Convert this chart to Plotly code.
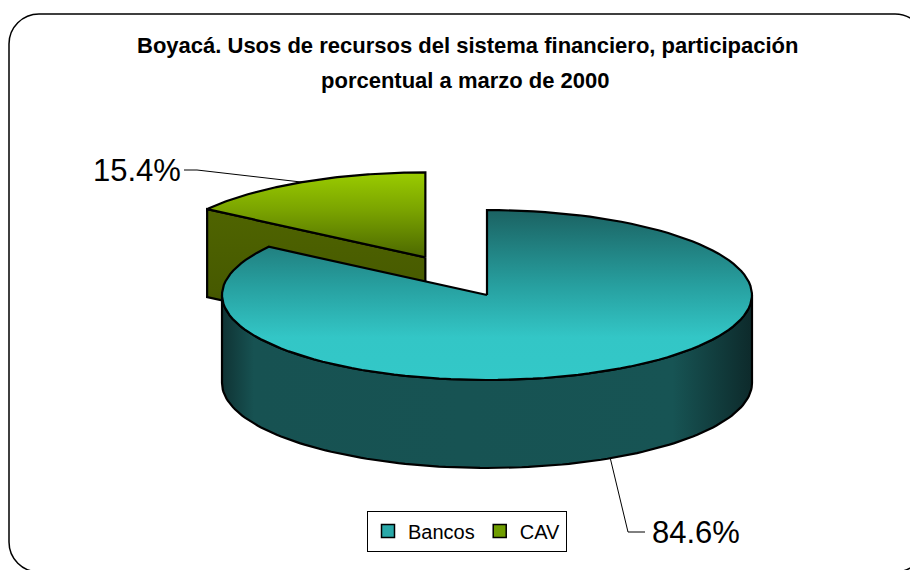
import math
import plotly.graph_objects as go

# ---------------- data ----------------
categories = ["Bancos", "CAV"]
values = [84.6, 15.4]
label_texts = ["84.6%", "15.4%"]
title_lines = ["Boyacá. Usos de recursos del sistema financiero, participación",
               "porcentual a marzo de 2000"]

# ---------------- layout / style ----------------
W, H = 918, 570
OFF = 8                    # page body margin (screen offset of the figure)
CX, CY = 487, 295          # centre of the pie top (screen px)
RX, RY = 265, 85           # ellipse radii of the pie top
DEPTH = 88                 # thickness of the 3D pie
EXPLODE = [0.0, 0.5]       # explode fraction of radius per slice
FONT = "Liberation Sans, Arial, sans-serif"

top_scales = [
    [[0, "#1b6262"], [0.45, "#27a0a0"], [0.75, "#33c6c6"], [1, "#33c8c8"]],
    [[0, "#9acc00"], [0.45, "#7aa300"], [1, "#4c6800"]],
]
side_scales = [
    [[0, "#0f3334"], [0.06, "#175252"], [0.85, "#175454"], [1, "#0d2a2b"]],
    [[0, "#4c6000"], [1, "#4c6000"]],
]
cut_scales = [
    [[0, "#1a5a5a"], [1, "#134444"]],
    [[0, "#4f6400"], [0.6, "#475a00"], [1, "#36450a"]],
]
legend_colors = ["#2aa9a9", "#6f9d00"]

# label geometry (text anchor, elbow)
label_pos = [dict(x=650, y=532, elbow=(628, 532), end=(645, 532), anchor="left"),
             dict(x=183, y=170, elbow=(197, 170), end=(184, 170), anchor="right")]

# ---------------- geometry from values ----------------
total = sum(values)
angles = []
acc = 0.0
for v in values:
    a0 = acc / total * 2 * math.pi
    acc += v
    a1 = acc / total * 2 * math.pi
    angles.append((a0, a1))


def rim(phi, dx, dy, drop=0.0):
    return CX + dx + RX * math.sin(phi), CY + dy - RY * math.cos(phi) + drop


def arc(a0, a1, dx, dy, drop=0.0, n=120):
    pts = []
    for k in range(n + 1):
        p = a0 + (a1 - a0) * k / n
        pts.append(rim(p, dx, dy, drop))
    return pts


fig = go.Figure()

slices = []
for i, (a0, a1) in enumerate(angles):
    mid = (a0 + a1) / 2
    e = EXPLODE[i]
    dx = e * RX * math.sin(mid)
    dy = -e * RY * math.cos(mid)
    slices.append(dict(i=i, a0=a0, a1=a1, mid=mid, dx=dx, dy=dy, key=-math.cos(mid)))

# draw back slices first
for s in sorted(slices, key=lambda d: d["key"]):
    i, a0, a1, dx, dy = s["i"], s["a0"], s["a1"], s["dx"], s["dy"]
    cx, cy = CX + dx, CY + dy
    line = dict(color="black", width=2.2)

    # cut faces
    faces = []
    if math.sin(a0) < -1e-6:
        faces.append(a0)
    if math.sin(a1) > 1e-6:
        faces.append(a1)
    for p in faces:
        rx_, ry_ = rim(p, dx, dy)
        xs = [cx, rx_, rx_, cx, cx]
        ys = [cy, ry_, ry_ + DEPTH, cy + DEPTH, cy]
        fig.add_trace(go.Scatter(x=xs, y=ys, mode="lines", fill="toself",
                                 line=line, hoverinfo="skip", showlegend=False,
                                 fillgradient=dict(type="vertical", colorscale=cut_scales[i],
                                                   start=min(ys), stop=max(ys))))

    # outer side (front half only)
    for lo, hi in [(math.pi / 2, 3 * math.pi / 2), (5 * math.pi / 2, 7 * math.pi / 2)]:
        b0, b1 = max(a0, lo), min(a1, hi)
        if b1 > b0:
            top = arc(b0, b1, dx, dy)
            bot = arc(b0, b1, dx, dy, DEPTH)[::-1]
            pts = top + bot + [top[0]]
            xs = [p[0] for p in pts]
            ys = [p[1] for p in pts]
            fig.add_trace(go.Scatter(x=xs, y=ys, mode="lines", fill="toself",
                                     line=line, hoverinfo="skip", showlegend=False,
                                     fillgradient=dict(type="horizontal", colorscale=side_scales[i],
                                                       start=min(xs), stop=max(xs))))

    # top face
    pts = [(cx, cy)] + arc(a0, a1, dx, dy) + [(cx, cy)]
    xs = [p[0] for p in pts]
    ys = [p[1] for p in pts]
    fig.add_trace(go.Scatter(x=xs, y=ys, mode="lines", fill="toself",
                             line=line, hoverinfo="skip", showlegend=False,
                             fillgradient=dict(type="vertical", colorscale=top_scales[i],
                                               start=min(ys), stop=max(ys))))

# leader lines and labels
for s in slices:
    i = s["i"]
    lp = label_pos[i]
    if -math.cos(s["mid"]) > 0:   # front slice: anchor on bottom rim
        ax, ay = rim(s["mid"], s["dx"], s["dy"], DEPTH)
    else:
        ax, ay = rim(s["mid"], s["dx"], s["dy"])
    fig.add_trace(go.Scatter(x=[ax, lp["elbow"][0], lp["end"][0]],
                             y=[ay, lp["elbow"][1], lp["end"][1]],
                             mode="lines", line=dict(color="black", width=1),
                             hoverinfo="skip", showlegend=False))
    fig.add_annotation(x=lp["x"], y=lp["y"], xref="x", yref="y", text=label_texts[i],
                       showarrow=False, xanchor=lp["anchor"], yanchor="middle",
                       font=dict(family=FONT, size=31, color="black"))

# legend entries
for i, c in enumerate(categories):
    fig.add_trace(go.Scatter(x=[None], y=[None], mode="markers", name=c,
                             marker=dict(symbol="square", size=13, color=legend_colors[i],
                                         line=dict(color="black", width=1.5))))

# title
fig.add_annotation(x=467, y=45, xref="x", yref="y", text="<b>" + title_lines[0] + "</b>",
                   showarrow=False, xanchor="center", yanchor="middle",
                   font=dict(family=FONT, size=22, color="black"))
fig.add_annotation(x=465, y=80, xref="x", yref="y", text="<b>" + title_lines[1] + "</b>",
                   showarrow=False, xanchor="center", yanchor="middle",
                   font=dict(family=FONT, size=22, color="black"))

# rounded chart-area border (extends slightly past the right/bottom edges)
x0, y0, x1, y1, r = 9, 14, 925, 572, 30
k = 0.5523 * r
path = (f"M {x0+r},{y0} L {x1-r},{y0} C {x1-r+k},{y0} {x1},{y0+r-k} {x1},{y0+r} "
        f"L {x1},{y1-r} C {x1},{y1-r+k} {x1-r+k},{y1} {x1-r},{y1} "
        f"L {x0+r},{y1} C {x0+r-k},{y1} {x0},{y1-r+k} {x0},{y1-r} "
        f"L {x0},{y0+r} C {x0},{y0+r-k} {x0+r-k},{y0} {x0+r},{y0} Z")
fig.add_shape(type="path", path=path, xref="x", yref="y",
              line=dict(color="black", width=1.5), layer="below")

fig.update_layout(
    width=W, height=H,
    margin=dict(l=0, r=0, t=0, b=0, pad=0),
    paper_bgcolor="white", plot_bgcolor="white",
    xaxis=dict(range=[OFF, W + OFF], visible=False, fixedrange=True),
    yaxis=dict(range=[H + OFF, OFF], visible=False, fixedrange=True),
    showlegend=True,
    legend=dict(orientation="h", x=(467 - OFF) / W, y=1 - (531 - OFF) / H,
                xanchor="center", yanchor="middle",
                bordercolor="black", borderwidth=1, bgcolor="white",
                font=dict(family=FONT, size=20, color="black"),
                itemwidth=30, tracegroupgap=0),
)

fig.write_html("out.html")
